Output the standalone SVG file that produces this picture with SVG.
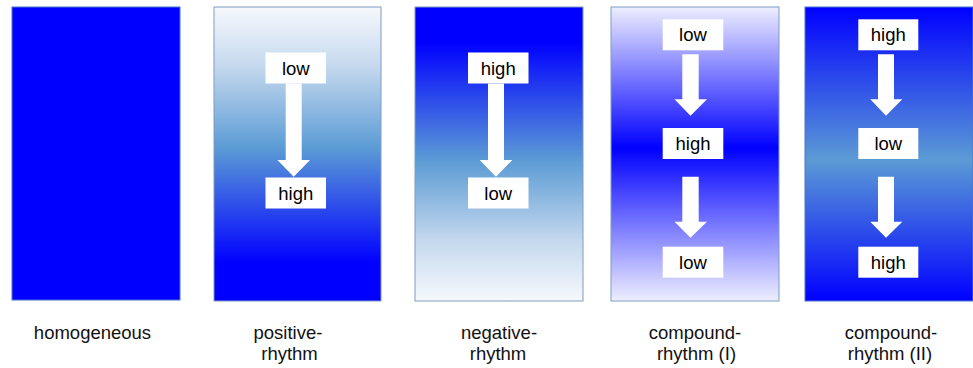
<svg xmlns="http://www.w3.org/2000/svg" width="973" height="368" viewBox="0 0 973 368">
<style>
.box{fill:#ffffff;}
.arrow{fill:#ffffff;}
.t{font-family:"Liberation Sans",Arial,sans-serif;font-size:18.5px;fill:#000000;text-anchor:middle;}
.lbl{font-family:"Liberation Sans",Arial,sans-serif;font-size:18.5px;fill:#111111;text-anchor:middle;}
</style>
<defs>
<linearGradient id="gPos" x1="0" y1="0" x2="0" y2="1">
<stop offset="0" stop-color="#f6f9fd"/>
<stop offset="0.2" stop-color="#c6d9ee"/>
<stop offset="0.48" stop-color="#5b9bd5"/>
<stop offset="0.87" stop-color="#0000ff"/>
<stop offset="1" stop-color="#0000ff"/>
</linearGradient>
<linearGradient id="gNeg" x1="0" y1="0" x2="0" y2="1">
<stop offset="0" stop-color="#0000ff"/>
<stop offset="0.12" stop-color="#0000ff"/>
<stop offset="0.52" stop-color="#5b9bd5"/>
<stop offset="0.8" stop-color="#c6d9ee"/>
<stop offset="1" stop-color="#f6f9fd"/>
</linearGradient>
<linearGradient id="gC1" x1="0" y1="0" x2="0" y2="1">
<stop offset="0" stop-color="#eeeeff"/>
<stop offset="0.48" stop-color="#0000ff"/>
<stop offset="1" stop-color="#eeeeff"/>
</linearGradient>
<linearGradient id="gC2" x1="0" y1="0" x2="0" y2="1">
<stop offset="0" stop-color="#0000ff"/>
<stop offset="0.52" stop-color="#5b9bd5"/>
<stop offset="1" stop-color="#0000ff"/>
</linearGradient>
</defs>

<g id="panel-homogeneous">
<rect x="12" y="7" width="168" height="293" fill="#0000ff" stroke="#4a77c9" stroke-width="1"/>
</g>

<g id="panel-positive">
<rect x="214" y="7" width="167" height="294" fill="url(#gPos)" stroke="#7f9cc0" stroke-width="1"/>
<g id="pos-low"><rect class="box" x="265.5" y="52.5" width="60.5" height="31"/><text class="t" x="295.8" y="74.5">low</text></g>
<g id="pos-high"><rect class="box" x="265.5" y="177.5" width="60.5" height="31"/><text class="t" x="295.8" y="199.5">high</text></g>
</g>

<g id="panel-negative">
<rect x="415" y="7" width="168" height="294" fill="url(#gNeg)" stroke="#7f9cc0" stroke-width="1"/>
<g id="neg-high"><rect class="box" x="468" y="52.5" width="60.5" height="31"/><text class="t" x="498.2" y="74.5">high</text></g>
<g id="neg-low"><rect class="box" x="468" y="177.5" width="60.5" height="31"/><text class="t" x="498.2" y="199.5">low</text></g>
</g>

<g id="panel-compound1">
<rect x="611" y="7" width="168" height="294" fill="url(#gC1)" stroke="#7f9cc0" stroke-width="1"/>
<g id="c1-low1"><rect class="box" x="662.7" y="19.3" width="60.6" height="31"/><text class="t" x="693" y="41.3">low</text></g>
<g id="c1-high"><rect class="box" x="662.7" y="128" width="60.6" height="31"/><text class="t" x="693" y="150">high</text></g>
<g id="c1-low2"><rect class="box" x="662.7" y="246.7" width="60.6" height="31"/><text class="t" x="693" y="268.7">low</text></g>
</g>

<g id="panel-compound2">
<rect x="805" y="7" width="168" height="294" fill="url(#gC2)" stroke="#4a77c9" stroke-width="1"/>
<g id="c2-high1"><rect class="box" x="858.3" y="19.3" width="60" height="31"/><text class="t" x="888.3" y="41.3">high</text></g>
<g id="c2-low"><rect class="box" x="858.3" y="128" width="60" height="31"/><text class="t" x="888.3" y="150">low</text></g>
<g id="c2-high2"><rect class="box" x="858.3" y="246.7" width="60" height="31"/><text class="t" x="888.3" y="268.7">high</text></g>
</g>

<g id="connectors">
<path class="arrow" d="M285.7 83.5 H301.7 V160 H310 L293.7 176.8 L277.4 160 H285.7 Z"/>
<path class="arrow" d="M488 83.5 H504 V160 H512.3 L496 176.8 L479.7 160 H488 Z"/>
<path class="arrow" d="M682.3 54.3 H698.7 V99.3 H707 L690.5 115.8 L674.5 99.3 H682.3 Z"/>
<path class="arrow" d="M682.3 176.7 H698.7 V221.7 H707 L690.5 237.8 L674.5 221.7 H682.3 Z"/>
<path class="arrow" d="M878 54.3 H894 V99.3 H902.3 L886 115.8 L870.3 99.3 H878 Z"/>
<path class="arrow" d="M878 176.7 H894 V221.7 H902.3 L886 237.8 L870.3 221.7 H878 Z"/>
</g>

<g id="labels">
<text class="lbl" x="92.5" y="339">homogeneous</text>
<text class="lbl" x="288" y="339">positive-</text>
<text class="lbl" x="289.5" y="359.5">rhythm</text>
<text class="lbl" x="499" y="339">negative-</text>
<text class="lbl" x="498" y="359.5">rhythm</text>
<text class="lbl" x="695" y="339">compound-</text>
<text class="lbl" x="696.5" y="359.5">rhythm (I)</text>
<text class="lbl" x="891" y="339">compound-</text>
<text class="lbl" x="890" y="359.5">rhythm (II)</text>
</g>
</svg>
